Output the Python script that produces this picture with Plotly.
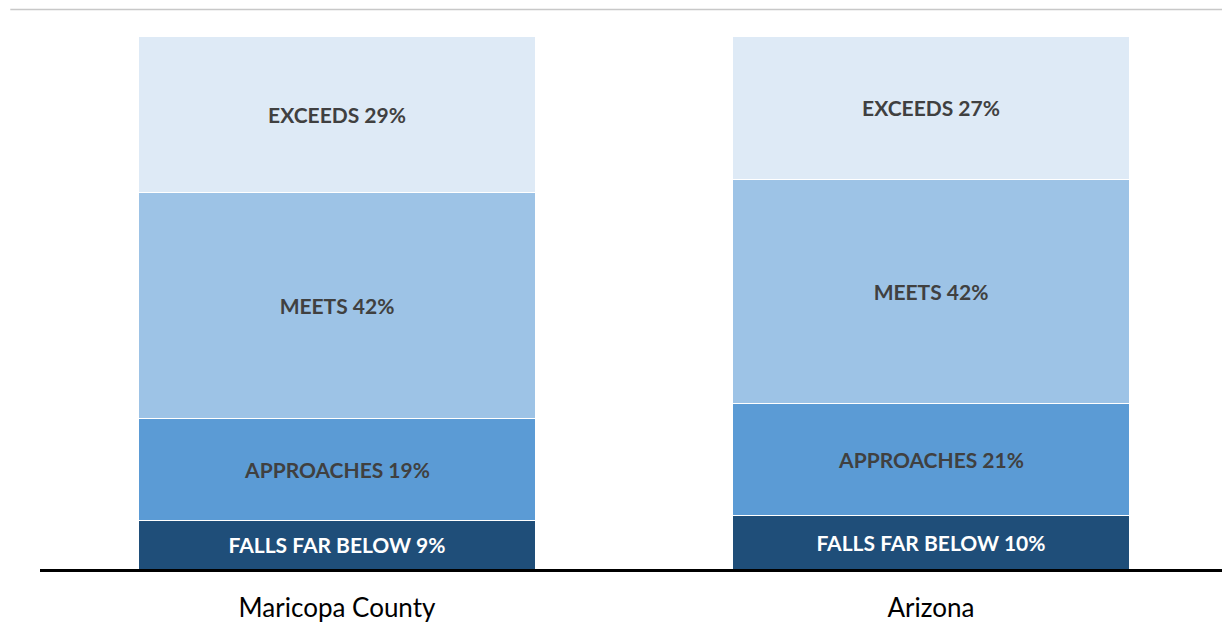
import plotly.graph_objects as go

categories = ["Maricopa County", "Arizona"]
levels = ["FALLS FAR BELOW", "APPROACHES", "MEETS", "EXCEEDS"]
falls_far_below = [9, 10]
approaches = [19, 21]
meets = [42, 42]
exceeds = [29, 27]

series = [falls_far_below, approaches, meets, exceeds]
colors = ["#1F4E79", "#5B9BD5", "#9DC3E6", "#DEEAF6"]
text_colors = ["#FFFFFF", "#404040", "#404040", "#404040"]

fig = go.Figure()
for name, vals, col, tcol in zip(levels, series, colors, text_colors):
    fig.add_trace(go.Bar(
        x=categories,
        y=vals,
        name=name,
        marker=dict(color=col, line=dict(color="#FFFFFF", width=1)),
        text=[f"{name} {v}%" for v in vals],
        textposition="inside",
        insidetextanchor="middle",
        constraintext="none",
        textangle=0,
        textfont=dict(family="Lato", size=21, color=tcol, weight="bold"),
        hoverinfo="skip",
    ))

fig.update_layout(
    barmode="stack",
    barnorm="percent",
    bargap=0.333,
    width=1222,
    height=624,
    margin=dict(l=32, r=2, t=28, b=63),
    paper_bgcolor="white",
    plot_bgcolor="white",
    showlegend=False,
    xaxis=dict(
        showline=True,
        linecolor="black",
        linewidth=3,
        showgrid=False,
        ticks="outside",
        ticklen=14,
        tickcolor="rgba(0,0,0,0)",
        tickfont=dict(family="Lato", size=26, color="#000000"),
    ),
    yaxis=dict(
        range=[0, 100],
        showgrid=False,
        zeroline=False,
        showticklabels=False,
        showline=False,
    ),
    shapes=[dict(
        type="line", xref="paper", yref="paper",
        x0=-0.025, x1=1.01, y0=1 + 26.5 / 533, y1=1 + 26.5 / 533,
        line=dict(color="#C8C8C8", width=1.5),
    )],
)

fig.write_html("out.html")
